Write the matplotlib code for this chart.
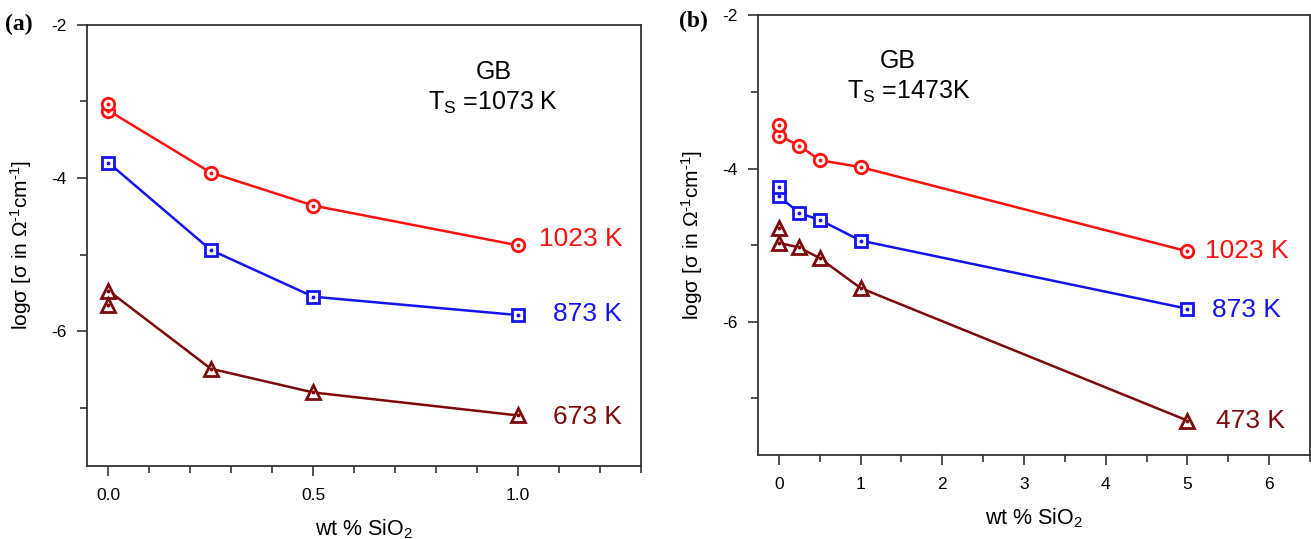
import matplotlib
matplotlib.use("Agg")
import matplotlib.pyplot as plt
from matplotlib.ticker import MultipleLocator

plt.rcParams['font.family'] = ['Liberation Sans', 'DejaVu Sans']
plt.rcParams['mathtext.fontset'] = 'custom'
plt.rcParams['mathtext.rm'] = 'Liberation Sans'
plt.rcParams['mathtext.it'] = 'Liberation Sans'
plt.rcParams['axes.unicode_minus'] = False

RED = '#ff1010'
BLUE = '#1414f0'
BROWN = '#7d0a0a'

# ---- panel (a): T_S = 1073 K ----
a_x = [0.0, 0.25, 0.5, 1.0]
a_1023 = [-3.12, -3.93, -4.36, -4.88]
a_873 = [-3.80, -4.94, -5.55, -5.79]
a_673 = [-5.47, -6.49, -6.80, -7.10]
# repeated measurement at 0 wt%
a_1023_extra = [-3.03]
a_673_extra = [-5.66]

# ---- panel (b): T_S = 1473 K ----
b_x = [0.0, 0.25, 0.5, 1.0, 5.0]
b_1023 = [-3.57, -3.70, -3.89, -3.98, -5.08]
b_873 = [-4.36, -4.58, -4.67, -4.94, -5.83]
b_473 = [-4.97, -5.03, -5.17, -5.56, -7.29]
b_1023_extra = [-3.43]
b_873_extra = [-4.24]
b_473_extra = [-4.78]

fig = plt.figure(figsize=(13.11, 5.39), dpi=100)
ax_a = fig.add_axes([0.0664, 0.1354, 0.4226, 0.8187])
ax_b = fig.add_axes([0.5782, 0.1558, 0.4210, 0.8156])


def series(ax, x, y, extra, color, marker, ms):
    ax.plot(x, y, color=color, lw=1.8, marker=marker, ms=ms, mfc='white',
            mec=color, mew=2.0, zorder=3)
    xs = list(x) + [0.0] * len(extra)
    ys = list(y) + list(extra)
    if extra:
        ax.plot([0.0] * len(extra), extra, ls='none', marker=marker, ms=ms,
                mfc='white', mec=color, mew=2.0, zorder=3)
    ax.plot(xs, ys, ls='none', marker='o', ms=1.8, color=color, zorder=4)


def style(ax, xmaj, xmin, fmt):
    ax.yaxis.set_major_locator(MultipleLocator(2))
    ax.yaxis.set_minor_locator(MultipleLocator(1))
    ax.xaxis.set_major_locator(MultipleLocator(xmaj))
    ax.xaxis.set_minor_locator(MultipleLocator(xmin))
    ax.xaxis.set_major_formatter(plt.FuncFormatter(lambda v, p: fmt % v))
    ax.tick_params(which='major', direction='out', length=7, width=1.2,
                   labelsize=12.5, color='#333333')
    ax.tick_params(which='minor', direction='out', length=5, width=1.2,
                   color='#333333')
    ax.tick_params(axis='y', pad=8)
    ax.tick_params(axis='x', pad=9)
    for s in ax.spines.values():
        s.set_linewidth(1.3)
        s.set_color('#333333')
    ax.set_ylabel(r'logσ [σ in Ω$^{\text{-1}}$cm$^{\text{-1}}$]', fontsize=15,
                  labelpad=12)
    ax.set_xlabel('wt % SiO$_2$', fontsize=15.5, labelpad=10)


# panel (a)
series(ax_a, a_x, a_1023, a_1023_extra, RED, 'o', 9)
series(ax_a, a_x, a_873, [], BLUE, 's', 8)
series(ax_a, a_x, a_673, a_673_extra, BROWN, '^', 10)
ax_a.set_xlim(-0.052, 1.30)
ax_a.set_ylim(-7.76, -2)
style(ax_a, 0.5, 0.1, '%.1f')
ax_a.text(1.05, -4.80, '1023 K', color=RED, fontsize=19, va='center')
ax_a.text(1.084, -5.78, '873 K', color=BLUE, fontsize=19, va='center')
ax_a.text(1.086, -7.12, '673 K', color=BROWN, fontsize=19, va='center')
ax_a.text(0.94, -2.62, 'GB', fontsize=18, ha='center', va='center')
ax_a.text(0.78, -3.02, 'T$_\\mathregular{S}$ =1073 K', fontsize=18,
          va='center')

# panel (b)
series(ax_b, b_x, b_1023, b_1023_extra, RED, 'o', 9)
series(ax_b, b_x, b_873, b_873_extra, BLUE, 's', 8)
series(ax_b, b_x, b_473, b_473_extra, BROWN, '^', 10)
ax_b.set_xlim(-0.255, 6.50)
ax_b.set_ylim(-7.74, -2)
style(ax_b, 1, 0.5, '%d')
ax_b.text(5.22, -5.07, '1023 K', color=RED, fontsize=19, va='center')
ax_b.text(5.30, -5.85, '873 K', color=BLUE, fontsize=19, va='center')
ax_b.text(5.35, -7.30, '473 K', color=BROWN, fontsize=19, va='center')
ax_b.text(1.45, -2.60, 'GB', fontsize=18, ha='center', va='center')
ax_b.text(0.84, -3.00, 'T$_\\mathregular{S}$ =1473K', fontsize=18,
          va='center')

fig.text(0.004, 0.955, '(a)', fontsize=17, fontweight='bold',
         family='Liberation Serif', va='center')
fig.text(0.518, 0.96, '(b)', fontsize=17, fontweight='bold',
         family='Liberation Serif', va='center')

fig.savefig('out.png', dpi=100)
